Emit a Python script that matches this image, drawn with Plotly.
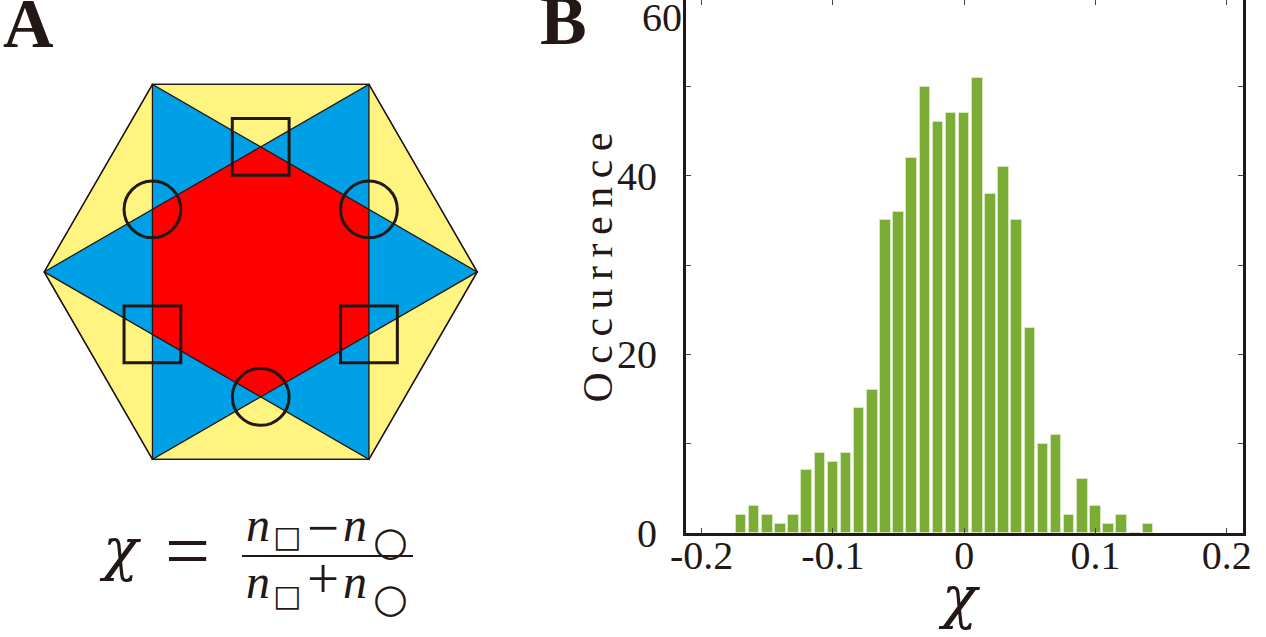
import math
import plotly.graph_objects as go

# ---------------- data (panel B histogram) ----------------
CHI_BINS = [-0.17, -0.16, -0.15, -0.14, -0.13, -0.12, -0.11, -0.10, -0.09, -0.08,
            -0.07, -0.06, -0.05, -0.04, -0.03, -0.02, -0.01, 0.00, 0.01, 0.02,
            0.03, 0.04, 0.05, 0.06, 0.07, 0.08, 0.09, 0.10, 0.11, 0.12, 0.13, 0.14]
OCCURRENCE = [2, 3, 2, 1, 2, 7, 9, 8, 9, 14, 16, 35, 36, 42, 50, 46, 47, 47,
              51, 38, 41, 35, 23, 10, 11, 2, 6, 3, 1, 2, 0, 1]
X_TICKS = [-0.2, -0.1, 0, 0.1, 0.2]
X_TICK_LABELS = ["-0.2", "-0.1", "0", "0.1", "0.2"]
Y_TICKS = [0, 10, 20, 30, 40, 50]
Y_TICK_LABELS = ["0", "", "20", "", "40", ""]
Y_TOP_LABEL = "60"

W, H = 1266, 637
INK = "#231815"
SERIF = "Liberation Serif"
MATH = "DejaVu Serif"


def px(x):
    return x / W


def py(y):
    return 1 - y / H


fig = go.Figure()
fig.add_trace(go.Bar(
    x=CHI_BINS, y=OCCURRENCE, width=0.0080,
    marker=dict(color="#7BAC35", line=dict(color="#d6e6bb", width=1)),
    hoverinfo="skip", showlegend=False,
))
# invisible trace so the top tick axis is drawn
fig.add_trace(go.Scatter(x=[], y=[], xaxis="x3", yaxis="y", showlegend=False, hoverinfo="skip"))

# plot-area geometry (pixels)
PL, PR, PB, PT = 686, 1243, 533, 0
X0PX, XSCALE = 964.2, 1312.5      # pixel of x=0, pixels per unit
YSCALE = 8.93                      # pixels per count
xr = [(PL - X0PX) / XSCALE, (PR - X0PX) / XSCALE]
yr = [0, (PB - PT) / YSCALE]

axis_common = dict(showgrid=False, zeroline=False, ticks="inside", ticklen=5,
                   tickwidth=1, tickcolor="#444", automargin=False)
fig.update_layout(
    width=W, height=H, margin=dict(l=0, r=0, t=0, b=0, autoexpand=False),
    paper_bgcolor="white", plot_bgcolor="white", showlegend=False,
    xaxis=dict(domain=[px(PL), px(PR)], range=xr, tickvals=X_TICKS, ticktext=X_TICK_LABELS,
               showline=True, linewidth=3, linecolor=INK, mirror=False,
               tickfont=dict(family=SERIF, size=40, color=INK), ticklabelstandoff=-15,
               **axis_common),
    xaxis3=dict(domain=[px(PL), px(PR)], range=xr, overlaying="x", side="top", anchor="y",
                tickvals=X_TICKS, showticklabels=False, showline=False, **axis_common),
    yaxis=dict(domain=[py(PB), py(PT)], range=yr, tickvals=Y_TICKS, ticktext=Y_TICK_LABELS,
               showline=True, linewidth=3, linecolor=INK, mirror="ticks",
               tickfont=dict(family=SERIF, size=40, color=INK), ticklabelstandoff=18,
               **axis_common),
    bargap=0,
)

ann = []


def text(t, x, y, size, family=SERIF, xanchor="center", angle=0, color=INK):
    ann.append(dict(text=t, x=px(x), y=py(y), xref="paper", yref="paper", showarrow=False,
                    xanchor=xanchor, yanchor="middle", textangle=angle,
                    font=dict(family=family, size=size, color=color)))


# panel letters
text("<b>A</b>", 1, 23.5, 70, xanchor="left")
text("<b>B</b>", 538, 20.5, 70, xanchor="left")
# top y label and axis titles
text(Y_TOP_LABEL, 684, 18, 40, xanchor="right")
text("Occurrence", 598, 263, 42, angle=-90)
text("<i>χ</i>", 959, 597, 58, family=MATH)

# formula  chi = (n_sq - n_o)/(n_sq + n_o)
text("<i>χ</i>", 120, 549, 58, family=MATH)
text("=", 188, 551, 80)
text("<i>n</i>", 257.5, 524.5, 48)
text("□", 287, 536.5, 30, family="DejaVu Sans")
text("−", 322.5, 527, 57)
text("<i>n</i>", 355, 524.5, 48)
text("○", 390, 541, 40, family="DejaVu Sans")
text("<i>n</i>", 257.5, 581, 48)
text("□", 287, 595, 30, family="DejaVu Sans")
text("+", 322.5, 578, 57)
text("<i>n</i>", 355, 581, 48)
text("○", 390, 598, 40, family="DejaVu Sans")
fig.update_layout(annotations=ann)

# ---------------- panel A diagram ----------------
HEX_CX, HEX_CY, HEX_R = 260.7, 271.9, 216.5
MARK_HALF = 28.4
YELLOW, BLUE, RED = "#FFF47F", "#00A0E6", "#FF0000"


def pt(r, deg):
    a = math.radians(deg)
    return HEX_CX + r * math.cos(a), HEX_CY - r * math.sin(a)


def path(points):
    s = "M " + " L ".join(f"{px(x):.5f},{py(y):.5f}" for x, y in points) + " Z"
    return s


shapes = []
outer = [pt(HEX_R, a) for a in (0, 60, 120, 180, 240, 300)]
shapes.append(dict(type="path", path=path(outer), xref="paper", yref="paper",
                   fillcolor=YELLOW, line=dict(color=INK, width=1.3)))
triA = [pt(HEX_R, a) for a in (120, 240, 0)]
triB = [pt(HEX_R, a) for a in (60, 300, 180)]
for tri in (triA, triB):
    shapes.append(dict(type="path", path=path(tri), xref="paper", yref="paper",
                       fillcolor=BLUE, line=dict(width=0)))
r_in = HEX_R / math.sqrt(3)
inner = [pt(r_in, a) for a in (90, 30, -30, -90, -150, 150)]
shapes.append(dict(type="path", path=path(inner), xref="paper", yref="paper",
                   fillcolor=RED, line=dict(width=0)))
for tri in (triA, triB):
    shapes.append(dict(type="path", path=path(tri), xref="paper", yref="paper",
                       fillcolor="rgba(0,0,0,0)", line=dict(color=INK, width=1.3)))
shapes.append(dict(type="path", path=path(outer), xref="paper", yref="paper",
                   fillcolor="rgba(0,0,0,0)", line=dict(color=INK, width=1.3)))
for a in (150, 30, -90):
    cx, cy = pt(r_in, a)
    shapes.append(dict(type="circle", xref="paper", yref="paper",
                       x0=px(cx - MARK_HALF), x1=px(cx + MARK_HALF),
                       y0=py(cy + MARK_HALF), y1=py(cy - MARK_HALF),
                       line=dict(color=INK, width=3)))
for a in (90, -150, -30):
    cx, cy = pt(r_in, a)
    shapes.append(dict(type="rect", xref="paper", yref="paper",
                       x0=px(cx - MARK_HALF), x1=px(cx + MARK_HALF),
                       y0=py(cy + MARK_HALF), y1=py(cy - MARK_HALF),
                       line=dict(color=INK, width=3)))
# fraction bar
shapes.append(dict(type="line", xref="paper", yref="paper", x0=px(242), x1=px(413),
                   y0=py(556), y1=py(556), line=dict(color=INK, width=2)))
fig.update_layout(shapes=shapes)

post = """
document.body.style.margin = '0';
document.body.style.overflow = 'hidden';
document.querySelectorAll('text.annotation-text').forEach(function(t){
  if (t.textContent.indexOf('Occurrence') >= 0) { t.style.letterSpacing = '8.5px'; }
});
"""
fig.write_html("out.html", config={"displayModeBar": False}, post_script=post)
